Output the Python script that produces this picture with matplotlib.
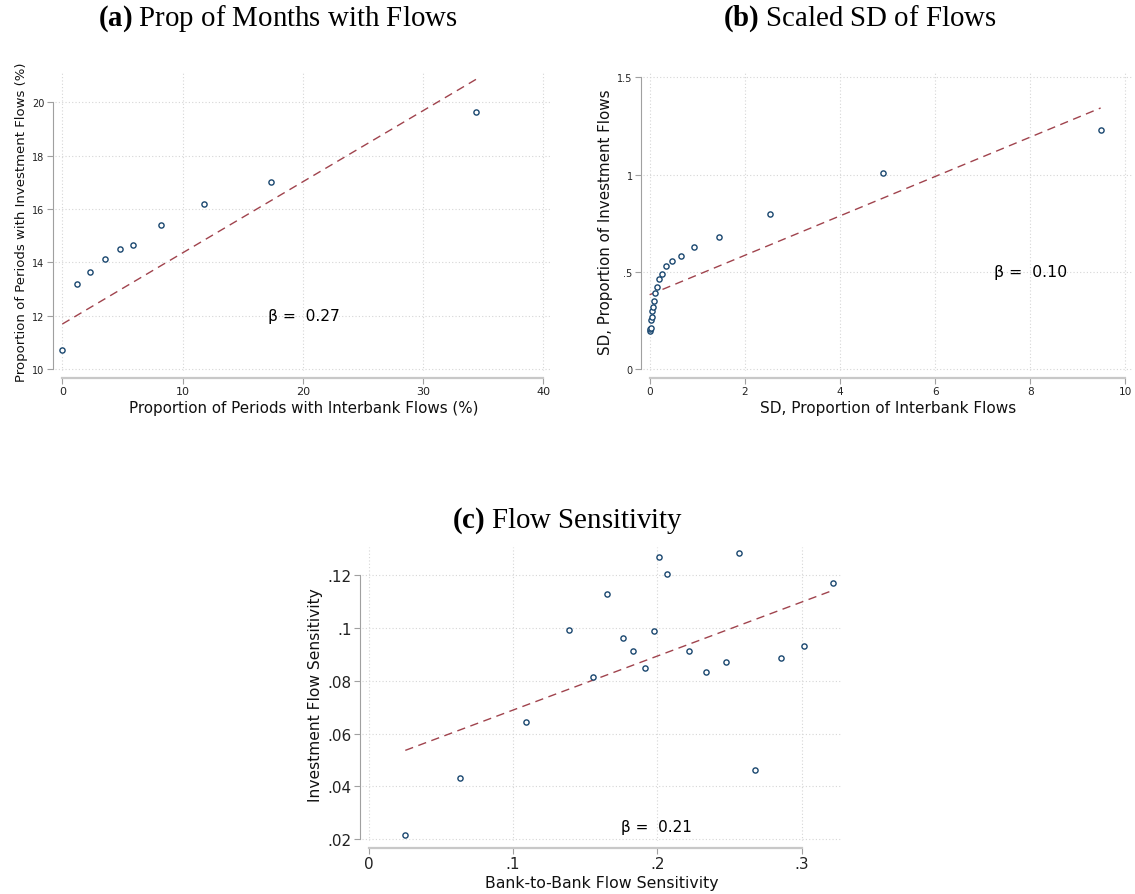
import matplotlib
matplotlib.use("Agg")
import matplotlib.pyplot as plt
import numpy as np

plt.rcParams['font.family'] = ['DejaVu Sans']
plt.rcParams['mathtext.fontset'] = 'custom'
plt.rcParams['mathtext.rm'] = 'Liberation Serif'
plt.rcParams['mathtext.bf'] = 'Liberation Serif:bold'

# ---- Panel (a) data ----
a_x = [0.0, 1.19, 2.32, 3.51, 4.76, 5.92, 8.18, 11.79, 17.32, 34.43]
a_y = [10.73, 13.18, 13.64, 14.11, 14.51, 14.65, 15.40, 16.18, 17.00, 19.63]
a_fit_x = [0.0, 34.43]
a_fit_y = [11.69, 20.86]
a_beta = "β =  0.27"
a_xticks = [0, 10, 20, 30, 40]
a_yticks = [10, 12, 14, 16, 18, 20]
a_yticklabels = ["10", "12", "14", "16", "18", "20"]

# ---- Panel (b) data ----
b_x = [0.01, 0.015, 0.02, 0.03, 0.04, 0.055, 0.07, 0.09, 0.12, 0.16,
       0.20, 0.26, 0.34, 0.47, 0.65, 0.94, 1.46, 2.52, 4.90, 9.48]
b_y = [0.197, 0.205, 0.213, 0.250, 0.270, 0.296, 0.318, 0.348, 0.392, 0.423,
       0.461, 0.487, 0.531, 0.553, 0.579, 0.625, 0.677, 0.795, 1.010, 1.231]
b_fit_x = [0.0, 9.48]
b_fit_y = [0.382, 1.342]
b_beta = "β =  0.10"
b_xticks = [0, 2, 4, 6, 8, 10]
b_yticks = [0, 0.5, 1, 1.5]
b_yticklabels = ["0", ".5", "1", "1.5"]

# ---- Panel (c) data ----
c_x = [0.0254, 0.0632, 0.1089, 0.1390, 0.1556, 0.1654, 0.1765, 0.1835, 0.1914, 0.1975,
       0.2015, 0.2069, 0.2222, 0.2336, 0.2474, 0.2563, 0.2674, 0.2859, 0.3017, 0.3215]
c_y = [0.0214, 0.0433, 0.0644, 0.0992, 0.0815, 0.1129, 0.0961, 0.0914, 0.0849, 0.0989,
       0.1271, 0.1206, 0.0915, 0.0832, 0.0871, 0.1286, 0.0463, 0.0887, 0.0934, 0.1170]
c_fit_x = [0.0254, 0.3215]
c_fit_y = [0.0536, 0.1143]
c_beta = "β =  0.21"
c_xticks = [0, 0.1, 0.2, 0.3]
c_xticklabels = ["0", ".1", ".2", ".3"]
c_yticks = [0.02, 0.04, 0.06, 0.08, 0.10, 0.12]
c_yticklabels = [".02", ".04", ".06", ".08", ".1", ".12"]

NAVY = '#1a476f'
MAROON = '#a0434d'
GRID = '#d6d6d6'

W, H = 1135, 895
fig = plt.figure(figsize=(W / 100, H / 100), dpi=100)
fig.patch.set_facecolor('white')


def px_axes(x0, x1, y0, y1):
    return fig.add_axes([x0 / W, 1 - y1 / H, (x1 - x0) / W, (y1 - y0) / H])


def style(ax, xticks, yticks, xlim, ylim, xticklabels=None, yticklabels=None,
          xticksize=8, yticksize=7, xlabel="", ylabel="", xlabelsize=10, ylabelsize=10):
    ax.set_xlim(*xlim)
    ax.set_ylim(*ylim)
    ax.set_xticks(xticks)
    ax.set_yticks(yticks)
    if xticklabels is not None:
        ax.set_xticklabels(xticklabels)
    if yticklabels is not None:
        ax.set_yticklabels(yticklabels)
    for s in ['top', 'right']:
        ax.spines[s].set_visible(False)
    ax.spines['left'].set_position(('outward', 1.5))
    ax.spines['bottom'].set_position(('outward', 5))
    ax.spines['left'].set_bounds(yticks[0], yticks[-1])
    ax.spines['bottom'].set_bounds(xticks[0], xticks[-1])
    ax.spines['left'].set_color('#a0a0a0')
    ax.spines['left'].set_linewidth(0.8)
    ax.spines['bottom'].set_color('#c8c8c8')
    ax.spines['bottom'].set_linewidth(1.6)
    ax.tick_params(axis='y', length=4, width=0.8, color='#a0a0a0', labelsize=yticksize,
                   pad=2, labelcolor='#222222')
    ax.tick_params(axis='x', length=4, width=0.8, color='#a0a0a0', labelsize=xticksize,
                   pad=2, labelcolor='#222222')
    ax.grid(True, linestyle=(0, (1, 2)), color=GRID, linewidth=0.8)
    ax.set_axisbelow(True)
    ax.set_xlabel(xlabel, fontsize=xlabelsize, labelpad=3, color='#111111')
    ax.set_ylabel(ylabel, fontsize=ylabelsize, labelpad=3, color='#111111')


def draw(ax, x, y, fx, fy):
    ax.plot(fx, fy, linestyle=(0, (6, 4)), color=MAROON, linewidth=1.0, zorder=2)
    ax.scatter(x, y, s=14, facecolors='white', edgecolors=NAVY, linewidths=1.0, zorder=3)


# Panel (a)
axa = px_axes(55, 552, 72, 372)
draw(axa, a_x, a_y, a_fit_x, a_fit_y)
style(axa, a_xticks, a_yticks, (-0.61, 40.74), (9.93, 21.17),
      yticklabels=a_yticklabels, xticksize=8, yticksize=7,
      xlabel="Proportion of Periods with Interbank Flows (%)",
      ylabel="Proportion of Periods with Investment Flows (%)",
      xlabelsize=10.9, ylabelsize=9.5)
axa.text(17.1, 12.0, a_beta, fontsize=11.2, ha='left', va='center')

# Panel (b)
axb = px_axes(643, 1133, 72, 372)
draw(axb, b_x, b_y, b_fit_x, b_fit_y)
style(axb, b_xticks, b_yticks, (-0.14, 10.16), (-0.01, 1.532),
      yticklabels=b_yticklabels, xticksize=7.6, yticksize=7,
      xlabel="SD, Proportion of Interbank Flows",
      ylabel="SD, Proportion of Investment Flows",
      xlabelsize=11, ylabelsize=10.9)
axb.text(7.23, 0.5, b_beta, fontsize=11.3, ha='left', va='center')

# Panel (c)
axc = px_axes(362, 842, 548, 842)
draw(axc, c_x, c_y, c_fit_x, c_fit_y)
style(axc, c_xticks, c_yticks, (-0.0046, 0.328), (0.0192, 0.1308),
      xticklabels=c_xticklabels, yticklabels=c_yticklabels, xticksize=11, yticksize=11,
      xlabel="Bank-to-Bank Flow Sensitivity",
      ylabel="Investment Flow Sensitivity", xlabelsize=11.3, ylabelsize=11.2)
axc.text(0.175, 0.0248, c_beta, fontsize=11, ha='left', va='center')

# Titles
fig.text(278 / W, 1 - 19 / H, r"$\mathbf{(a)}$ Prop of Months with Flows",
         fontsize=20.8, family='Liberation Serif', ha='center', va='center')
fig.text(860 / W, 1 - 19 / H, r"$\mathbf{(b)}$ Scaled SD of Flows",
         fontsize=20.8, family='Liberation Serif', ha='center', va='center')
fig.text(568 / W, 1 - 521 / H, r"$\mathbf{(c)}$ Flow Sensitivity",
         fontsize=20.8, family='Liberation Serif', ha='center', va='center')

fig.savefig("out.png", dpi=100, facecolor='white')
